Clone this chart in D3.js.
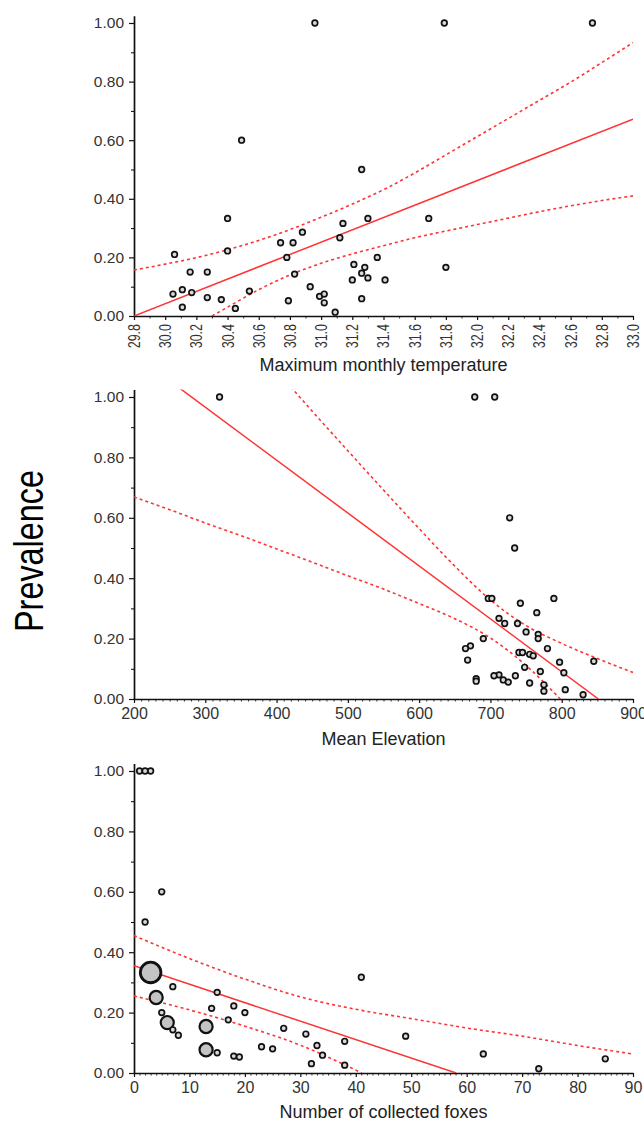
<!DOCTYPE html>
<html>
<head>
<meta charset="utf-8">
<script src="https://cdn.jsdelivr.net/npm/d3@7"></script>
<style>
  body { margin: 0; background: #fff; }
  svg { display: block; font-family: "Liberation Sans", Arial, sans-serif; }
</style>
</head>
<body>
<svg id="chart"></svg>
<script>
const width = 644
const height = 1121
const left = 134
const right = 633

// shared y axis
const prevTicks = [0, 0.2, 0.4, 0.6, 0.8, 1.0]

// panel 1: maximum monthly temperature
const tempTicks = [29.8, 30.0, 30.2, 30.4, 30.6, 30.8, 31.0, 31.2, 31.4, 31.6, 31.8, 32.0, 32.2, 32.4, 32.6, 32.8, 33.0]
const tempX = [30.05, 30.06, 30.11, 30.11, 30.16, 30.17, 30.27, 30.27, 30.36, 30.40, 30.40, 30.45, 30.49, 30.54, 30.74, 30.78, 30.79, 30.82, 30.83, 30.88, 30.93, 30.96, 30.99, 31.02, 31.02, 31.09, 31.12, 31.14, 31.20, 31.21, 31.26, 31.26, 31.26, 31.28, 31.30, 31.30, 31.36, 31.41, 31.69, 31.79, 31.80, 32.74]
const tempPrev = [0.075, 0.21, 0.09, 0.03, 0.15, 0.08, 0.15, 0.063, 0.056, 0.333, 0.222, 0.026, 0.60, 0.085, 0.25, 0.20, 0.052, 0.25, 0.143, 0.286, 0.10, 1.00, 0.067, 0.075, 0.045, 0.013, 0.267, 0.316, 0.123, 0.176, 0.50, 0.146, 0.059, 0.166, 0.333, 0.13, 0.20, 0.123, 0.333, 1.00, 0.166, 1.00]
const tempFitX = [29.8, 33.0]
const tempFitY = [0, 0.672]
const tempUpX = [29.8, 30.0, 30.2, 30.4, 30.6, 30.8, 31.0, 31.2, 31.4, 31.6, 31.8, 32.0, 32.2, 32.4, 32.6, 32.8, 33.0]
const tempUpY = [0.157, 0.177, 0.199, 0.226, 0.258, 0.295, 0.337, 0.382, 0.431, 0.488, 0.55, 0.612, 0.674, 0.736, 0.798, 0.865, 0.933]
const tempLoX = [30.3, 30.4, 30.6, 30.8, 31.0, 31.2, 31.4, 31.6, 31.8, 32.0, 32.2, 32.4, 32.6, 32.8, 33.0]
const tempLoY = [0, 0.03, 0.09, 0.14, 0.18, 0.212, 0.24, 0.267, 0.29, 0.312, 0.334, 0.356, 0.376, 0.394, 0.41]

// panel 2: mean elevation
const elevTicks = [200, 300, 400, 500, 600, 700, 800, 900]
const elevX = [320, 678, 706, 727, 734, 697, 702, 789, 742, 765, 712, 720, 738, 750, 767, 690, 767, 672, 665, 780, 740, 745, 755, 760, 668, 845, 797, 748, 770, 803, 712, 705, 735, 680, 718, 680, 725, 755, 775, 805, 775, 830]
const elevPrev = [1, 1, 1, 0.6, 0.5, 0.333, 0.333, 0.333, 0.317, 0.286, 0.267, 0.25, 0.25, 0.222, 0.214, 0.2, 0.2, 0.176, 0.167, 0.167, 0.154, 0.154, 0.148, 0.143, 0.129, 0.125, 0.122, 0.105, 0.091, 0.087, 0.08, 0.077, 0.077, 0.067, 0.063, 0.059, 0.056, 0.053, 0.047, 0.031, 0.026, 0.014]
const elevFitX = [263.6, 851.5]
const elevFitY = [1.03, 0]
const elevUpX = [420, 450, 500, 550, 600, 650, 700, 750, 800, 850, 900]
const elevUpY = [1.033, 0.953, 0.822, 0.692, 0.564, 0.44, 0.328, 0.243, 0.184, 0.134, 0.088]
const elevLoX = [200, 250, 300, 350, 400, 450, 500, 550, 600, 650, 700, 750, 798]
const elevLoY = [0.669, 0.627, 0.583, 0.541, 0.497, 0.453, 0.408, 0.364, 0.316, 0.266, 0.202, 0.111, 0]

// panel 3: number of collected foxes (sites = number of overlapping sites)
const foxTicks = [0, 10, 20, 30, 40, 50, 60, 70, 80, 90]
const foxN = [1, 2, 3, 2, 5, 3, 4, 7, 5, 6, 7, 8, 13, 13, 15, 15, 14, 17, 18, 20, 18, 19, 23, 25, 27, 31, 32, 33, 34, 38, 38, 41, 49, 63, 73, 85]
const foxPrev = [1, 1, 1, 0.5, 0.6, 0.333, 0.25, 0.286, 0.2, 0.167, 0.143, 0.125, 0.154, 0.077, 0.267, 0.067, 0.214, 0.176, 0.222, 0.2, 0.056, 0.053, 0.087, 0.08, 0.148, 0.129, 0.031, 0.091, 0.059, 0.105, 0.026, 0.317, 0.122, 0.063, 0.014, 0.047]
const foxSites = [1, 1, 1, 1, 1, 3, 2, 1, 1, 2, 1, 1, 2, 2, 1, 1, 1, 1, 1, 1, 1, 1, 1, 1, 1, 1, 1, 1, 1, 1, 1, 1, 1, 1, 1, 1]
const foxFitX = [0, 58.1]
const foxFitY = [0.355, 0]
const foxUpX = [0, 10, 20, 30, 40, 50, 60, 70, 80, 90]
const foxUpY = [0.455, 0.379, 0.311, 0.252, 0.211, 0.18, 0.149, 0.122, 0.091, 0.063]
const foxLoX = [0, 10, 20, 30, 41.1]
const foxLoY = [0.255, 0.209, 0.155, 0.092, 0]

const red = '#ff3333'
const yTop = 1.025

const svg = d3.select('#chart').attr('width', width).attr('height', height)

const zip = (a, b) => a.map((v, i) => [v, b[i]])

function drawPanel(cfg) {
  const x = d3.scaleLinear().domain(cfg.xDomain).range([left, right])
  const y = d3.scaleLinear().domain([0, yTop]).range([cfg.y0, cfg.y0 - cfg.k * yTop])

  svg.append('clipPath').attr('id', 'clip' + cfg.id)
    .append('rect')
    .attr('x', left).attr('y', y(yTop))
    .attr('width', right - left).attr('height', cfg.y0 - y(yTop))

  // minor ticks first, majors on top
  svg.append('g')
    .attr('transform', `translate(${left},0)`)
    .call(d3.axisLeft(y).tickValues(d3.range(0.1, 1.0, 0.2)).tickSize(3).tickFormat('').tickSizeOuter(0))
    .call(g => g.select('.domain').remove())

  const yAxis = svg.append('g')
    .attr('transform', `translate(${left},0)`)
    .call(d3.axisLeft(y).tickValues(prevTicks).tickSize(5).tickSizeOuter(0).tickFormat(d3.format('.2f')))
  yAxis.select('.domain').attr('stroke', '#111').attr('stroke-width', 1.7)
  yAxis.selectAll('.tick line').attr('stroke', '#111').attr('stroke-width', 1.2)
  yAxis.selectAll('.tick text')
    .attr('x', -10).attr('fill', '#333')
    .style('font-size', '15.5px').style('font-family', '"Liberation Sans", Arial, sans-serif')

  svg.append('g')
    .attr('transform', `translate(0,${cfg.y0})`)
    .call(d3.axisBottom(x).tickValues(cfg.minor).tickSize(2.5).tickFormat('').tickSizeOuter(0))
    .call(g => g.select('.domain').remove())
    .call(g => g.selectAll('.tick line').attr('stroke', '#333'))

  const xAxis = svg.append('g')
    .attr('transform', `translate(0,${cfg.y0})`)
    .call(d3.axisBottom(x).tickValues(cfg.ticks).tickSize(4).tickSizeOuter(0)
      .tickFormat(cfg.rotate ? d3.format('.1f') : d3.format('d')))
  xAxis.select('.domain').attr('stroke', '#111').attr('stroke-width', 1.7)
  xAxis.selectAll('.tick line').attr('stroke', '#111').attr('stroke-width', 1.2)
  const xt = xAxis.selectAll('.tick text')
    .attr('fill', '#333')
    .style('font-family', '"Liberation Sans", Arial, sans-serif')
  if (cfg.rotate) {
    xt.attr('y', null).attr('dy', '0.35em')
      .attr('text-anchor', 'end')
      .attr('transform', 'translate(0,8) rotate(-90) scale(1,1.25)')
      .style('font-size', '12.5px')
  } else {
    xt.attr('y', 9).style('font-size', '16px')
  }

  svg.append('text')
    .attr('x', (left + right) / 2).attr('y', cfg.titleY)
    .attr('text-anchor', 'middle').attr('fill', '#222')
    .style('font-size', '18px')
    .text(cfg.title)

  const plot = svg.append('g').attr('clip-path', `url(#clip${cfg.id})`)
  const line = d3.line().x(d => x(d[0])).y(d => y(d[1])).curve(d3.curveMonotoneX)

  plot.append('path').datum(zip(cfg.upX, cfg.upY))
    .attr('d', line).attr('fill', 'none').attr('stroke', red)
    .attr('stroke-width', 1.6).attr('stroke-dasharray', '3,3')
  plot.append('path').datum(zip(cfg.loX, cfg.loY))
    .attr('d', line).attr('fill', 'none').attr('stroke', red)
    .attr('stroke-width', 1.6).attr('stroke-dasharray', '3,3')
  plot.append('path').datum(zip(cfg.fitX, cfg.fitY))
    .attr('d', line).attr('fill', 'none').attr('stroke', red)
    .attr('stroke-width', 1.5)

  const r = d3.scaleLinear().domain([1, 3]).range([2.8, 10.3])
  const pts = cfg.px.map((v, i) => ({ x: v, y: cfg.py[i], n: cfg.sites ? cfg.sites[i] : 1 }))
    .sort((a, b) => b.n - a.n)
  svg.append('g').selectAll('circle')
    .data(pts)
    .join('circle')
    .attr('cx', d => x(d.x))
    .attr('cy', d => y(d.y))
    .attr('r', d => r(d.n))
    .attr('fill', d => d.n > 1 ? '#c4c4c4' : '#d8d8d8')
    .attr('stroke', '#111')
    .attr('stroke-width', d => d.n > 2 ? 2.8 : d.n > 1 ? 2.2 : 1.7)
}

drawPanel({
  id: 1, xDomain: [29.8, 33.0], y0: 316, k: 293,
  ticks: tempTicks, minor: d3.range(29.9, 33.0, 0.2), rotate: true,
  title: 'Maximum monthly temperature', titleY: 371,
  px: tempX, py: tempPrev,
  fitX: tempFitX, fitY: tempFitY, upX: tempUpX, upY: tempUpY, loX: tempLoX, loY: tempLoY
})

drawPanel({
  id: 2, xDomain: [200, 900], y0: 699, k: 302,
  ticks: elevTicks, minor: d3.range(210, 900, 10).filter(v => v % 100 !== 0),
  title: 'Mean Elevation', titleY: 745,
  px: elevX, py: elevPrev,
  fitX: elevFitX, fitY: elevFitY, upX: elevUpX, upY: elevUpY, loX: elevLoX, loY: elevLoY
})

drawPanel({
  id: 3, xDomain: [0, 90], y0: 1073, k: 302,
  ticks: foxTicks, minor: d3.range(1, 90, 1).filter(v => v % 10 !== 0),
  title: 'Number of collected foxes', titleY: 1118,
  px: foxN, py: foxPrev, sites: foxSites,
  fitX: foxFitX, fitY: foxFitY, upX: foxUpX, upY: foxUpY, loX: foxLoX, loY: foxLoY
})

svg.append('text')
  .attr('transform', 'translate(43,551) rotate(-90)')
  .attr('text-anchor', 'middle')
  .attr('textLength', 162)
  .attr('lengthAdjust', 'spacingAndGlyphs')
  .attr('fill', '#000')
  .style('font-size', '41px')
  .text('Prevalence')
</script>
</body>
</html>
